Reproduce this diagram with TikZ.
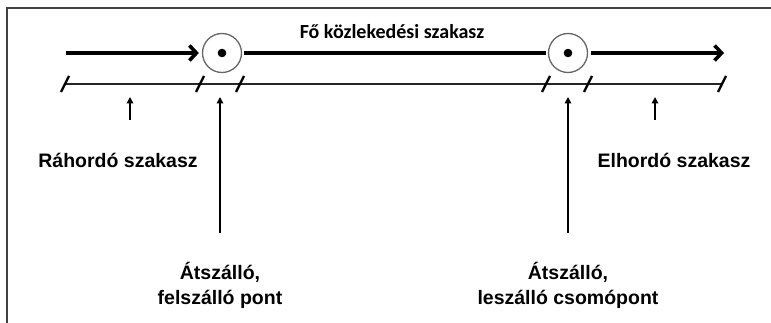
\documentclass[tikz,border=0pt]{standalone}
\usepackage{fontspec}
\setmainfont{Liberation Sans}
\newfontfamily\headfont{Carlito}
\usetikzlibrary{arrows.meta}
\begin{document}
\begin{tikzpicture}[x=1pt,y=-1pt,
  frame/.style={draw=black!75,line width=2.2pt},
  flow/.style={line width=3.6pt,-{Straight Barb[length=7pt,width=15pt,line width=3.6pt]}},
  mainline/.style={line width=4.2pt},
  stop/.style={circle,draw=black!60,line width=1.3pt,minimum size=39pt,inner sep=0pt},
  baseline/.style={draw=black!85,line width=2pt},
  tick/.style={line width=2.4pt},
  pointer/.style={line width=2pt,-{Triangle[length=6.5pt,width=6.5pt]}},
  lbl/.style={font=\bfseries\fontsize{19.5}{25}\selectfont,align=center,inner sep=0pt},
  head/.style={font=\headfont\bfseries\fontsize{20}{24}\selectfont,inner sep=0pt}]
\useasboundingbox (0,0) rectangle (771,323);
% frame (top and left edges)
\draw[frame] (771,8) -- (7,8) -- (7,323);

% top row: feeder, main and distributor sections
\coordinate (start) at (66,53);
\coordinate (finish) at (724,53);
\node[stop] (c1) at (222,53) {};
\node[stop] (c2) at (568,53) {};
\fill (c1) circle (4.3pt);
\fill (c2) circle (4.3pt);
\draw[flow] (start) -- ([xshift=-3pt]c1.west);
\draw[mainline] ([xshift=2pt]c1.east) -- ([xshift=-2pt]c2.west);
\draw[flow] ([xshift=3pt]c2.east) -- (finish);
\node[head] (main) at (392,32) {Fő közlekedési szakasz};

% section line with slanted tick marks
\foreach \n/\x in {1/65,2/200,3/240,4/546,5/588,6/722}
  \coordinate (t\n) at (\x,84);
\draw[baseline] (t1) -- (t6);
\foreach \n in {1,...,6}
  \draw[tick] ([shift={(-4,8)}]t\n) -- ([shift={(4,-8)}]t\n);

% labels and pointers
\node[lbl] (feed) at (118,160) {Ráhordó szakasz};
\node[lbl] (dist) at (674,160) {Elhordó szakasz};
\node[lbl] (board) at (220,285) {Átszálló,\\felszálló pont};
\node[lbl] (alight) at (568,285) {Átszálló,\\leszálló csomópont};

\coordinate (p1) at (130,97);
\coordinate (p2) at (220,97);
\coordinate (p3) at (568,97);
\coordinate (p4) at (655,97);
\draw[pointer] (130,120) -- (p1);
\draw[pointer] (220,233) -- (p2);
\draw[pointer] (568,233) -- (p3);
\draw[pointer] (655,120) -- (p4);
\end{tikzpicture}
\end{document}
